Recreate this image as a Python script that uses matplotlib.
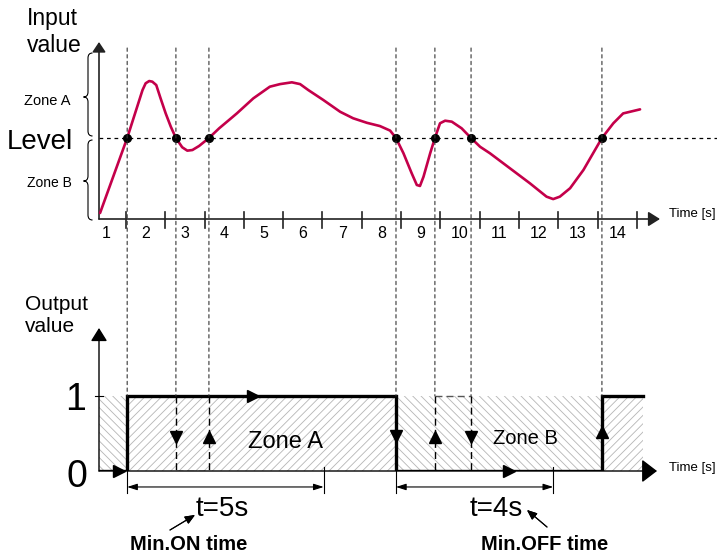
import numpy as np
import matplotlib
matplotlib.use("Agg")
import matplotlib.pyplot as plt
from matplotlib.patches import ConnectionPatch, PathPatch
from matplotlib.path import Path

plt.rcParams['font.family'] = ['Liberation Sans', 'DejaVu Sans']
plt.rcParams['hatch.linewidth'] = 0.6

W, H = 717, 555

# input signal: time [s] and value (level = 50)
curve_t = [0.34, 1.03, 1.42, 1.50, 1.59, 1.67, 1.77, 1.88, 2.01, 2.14, 2.27,
           2.43, 2.56, 2.69, 2.86, 3.11, 3.37, 3.62, 3.82, 4.24, 4.66, 4.92,
           5.22, 5.43, 5.64, 6.02, 6.45, 6.78, 7.13, 7.46, 7.72, 7.87, 8.06,
           8.27, 8.40, 8.48, 8.57, 8.74, 8.86, 8.99, 9.12, 9.29, 9.54, 9.78,
           10.01, 10.26, 10.77, 11.28, 11.70, 11.87, 12.04, 12.30, 12.64, 13.11,
           13.40, 13.65, 14.08]
curve_v = [3.7, 50, 79.6, 83.8, 85.2, 84.8, 82.7, 74.5, 65.2, 57.0, 50,
           44.3, 42.2, 42.6, 45.1, 50, 56.0, 61.1, 65.2, 74.5, 81.7, 83.3,
           84.4, 83.3, 79.6, 73.5, 66.2, 62.2, 59.4, 57.4, 54.6, 50, 40.6,
           28.2, 21.0, 20.4, 26.1, 40.6, 50, 59.1, 60.7, 60.1, 56.0, 50,
           44.6, 40.6, 31.3, 22.0, 13.8, 12.3, 13.8, 19.0, 30.3, 50,
           59.1, 65.2, 67.7]
level = 50
crossings = [1.03, 2.27, 3.11, 7.87, 8.86, 9.78, 13.11]
seconds = np.arange(1, 15)
tick_labels = [str(s) for s in seconds]

# output signal
out_t = [0.31, 1.03, 1.03, 7.87, 7.87, 13.11, 13.11, 14.15]
out_v = [0, 0, 1, 1, 0, 0, 1, 1]
ignored_on = [2.27, 3.11]
ignored_off = [8.86, 9.78]
zone_edges = [0.31, 1.03, 7.87, 13.11, 14.15]
min_on = 5
min_off = 4


def fx(px):
    return px / W


def fy(py):
    return 1 - py / H


def t_of(px):
    return (px - 126) / 39.3 + 1


fig = plt.figure(figsize=(W / 100, H / 100), dpi=100)
ax1 = fig.add_axes([fx(99), fy(219), (660 - 99) / W, (219 - 42) / H])
ax2 = fig.add_axes([fx(99), fy(471), (660 - 99) / W, (471 - 328) / H])
t_left, t_right = t_of(99), t_of(660)
for ax in (ax1, ax2):
    ax.set_xlim(t_left, t_right)
    ax.axis('off')
ax1.set_ylim(0, 109.3)
ax2.set_ylim(0, 1.907)

# --- oberes Diagramm ---
arr = dict(color='#222222', lw=1.2, shrinkA=0, shrinkB=0, mutation_scale=20)
ax1.annotate('', xy=(t_right, 0), xytext=(t_left, 0), annotation_clip=False,
             arrowprops=dict(arrowstyle='-|>,head_length=0.35,head_width=0.22', **arr))
ax1.annotate('', xy=(t_left, 109.3), xytext=(t_left, 0), annotation_clip=False,
             arrowprops=dict(arrowstyle='-|>,head_length=0.3,head_width=0.2', **arr))
for s, lab in zip(seconds, tick_labels):
    ax1.plot([s, s], [4.3, -5.6], color='#222222', lw=1.2, clip_on=False)
    ax1.text(s - 0.5, -9.2, lab, ha='center', va='center', fontsize=11.5)

ax1.plot([t_left, t_of(717)], [level, level], ls=(0, (3, 3)), lw=0.9,
         color='k', clip_on=False)
ax1.plot(curve_t, curve_v, color='#C4004A', lw=1.9, solid_joinstyle='round',
         solid_capstyle='round', clip_on=False, zorder=3)
ax1.plot(crossings, [level] * len(crossings), 'o', color='k', ms=5.5, zorder=5)

for c in crossings:
    con = ConnectionPatch(xyA=(c, 105.6), coordsA=ax1.transData,
                          xyB=(c, 1), coordsB=ax2.transData,
                          ls=(0, (3, 3)), lw=0.8, color='#333333')
    fig.add_artist(con)

# --- unteres Diagramm ---
ax2.annotate('', xy=(t_of(657), 0), xytext=(t_left, 0), annotation_clip=False,
             arrowprops=dict(arrowstyle='-|>,head_length=0.47,head_width=0.36',
                             color='k', lw=1, shrinkA=0, shrinkB=0, mutation_scale=20))
ax2.annotate('', xy=(t_left, 1.907), xytext=(t_left, 0), annotation_clip=False,
             arrowprops=dict(arrowstyle='-|>,head_length=0.4,head_width=0.25',
                             color='k', lw=1, shrinkA=0, shrinkB=0, mutation_scale=20))
ax2.plot([t_of(95), t_of(103)], [1, 1], color='k', lw=0.8, clip_on=False)

patterns = ['\\\\\\\\', '////']
for i in range(len(zone_edges) - 1):
    ax2.fill_between([zone_edges[i], zone_edges[i + 1]], 0, 1, facecolor='none',
                     edgecolor='#b5b5b5', hatch=patterns[i % 2], lw=0)

ax2.plot(out_t, out_v, color='k', lw=2.4, solid_joinstyle='miter', zorder=4)

for c in ignored_on + ignored_off:
    ax2.plot([c, c], [1, 0], ls=(0, (5, 3)), lw=1, color='k', zorder=3)
ax2.plot(ignored_on, [0, 0], ls=(0, (5, 3)), lw=1, color='k')
ax2.plot(ignored_off, [1, 1], ls=(0, (5, 3)), lw=1, color='#555555')

mk = dict(color='k', ms=9, zorder=5, clip_on=False)
ax2.plot(t_of(119), 0, marker='>', **mk)
ax2.plot(t_of(253), 1, marker='>', **mk)
ax2.plot(crossings[3], 0.47, marker='v', **mk)
ax2.plot(t_of(509), 0, marker='>', **mk)
ax2.plot(crossings[6], 0.52, marker='^', **mk)
ax2.plot(ignored_on[0], 0.45, marker='v', **mk)
ax2.plot(ignored_on[1], 0.45, marker='^', **mk)
ax2.plot(ignored_off[0], 0.45, marker='^', **mk)
ax2.plot(ignored_off[1], 0.45, marker='v', **mk)

# Bemaßung Min.ON / Min.OFF
dim_y = -0.213
for a, b in [(crossings[0], crossings[0] + min_on), (crossings[3], crossings[3] + min_off)]:
    ax2.annotate('', xy=(b, dim_y), xytext=(a, dim_y), annotation_clip=False,
                 arrowprops=dict(arrowstyle='<|-|>,head_length=0.5,head_width=0.16',
                                 color='k', lw=0.8, shrinkA=0, shrinkB=0, mutation_scale=12))
    for x in (a, b):
        ax2.plot([x, x], [0.05, -0.29], color='k', lw=0.8, clip_on=False)

fig.text(fx(222), fy(509), 't=5s', fontsize=20, ha='center', va='center')
fig.text(fx(496), fy(509), 't=4s', fontsize=20, ha='center', va='center')
fig.text(fx(189), fy(545), 'Min.ON time', fontsize=14.5, weight='bold', ha='center', va='center')
fig.text(fx(545), fy(545), 'Min.OFF time', fontsize=14.5, weight='bold', ha='center', va='center')
small = dict(arrowstyle='-|>,head_length=0.6,head_width=0.25', lw=0.8, color='k',
             mutation_scale=10, shrinkA=0, shrinkB=0)
fig.add_artist(plt.annotate('', xy=(fx(195), fy(515)), xytext=(fx(170), fy(530)),
                            xycoords='figure fraction', arrowprops=small))
fig.add_artist(plt.annotate('', xy=(fx(527), fy(510)), xytext=(fx(547), fy(527)),
                            xycoords='figure fraction', arrowprops=small))

fig.text(fx(286), fy(442), 'Zone A', fontsize=17, ha='center', va='center')
fig.text(fx(525), fy(439), 'Zone B', fontsize=14.5, ha='center', va='center')
fig.text(fx(692), fy(214), 'Time [s]', fontsize=9.5, ha='center', va='center')
fig.text(fx(692), fy(468), 'Time [s]', fontsize=9.5, ha='center', va='center')
fig.text(fx(76), fy(400), '1', fontsize=27, ha='center', va='center')
fig.text(fx(77), fy(477), '0', fontsize=27, ha='center', va='center')
fig.text(fx(25), fy(304), 'Output', fontsize=15, ha='left', va='center')
fig.text(fx(25), fy(327), 'value', fontsize=15, ha='left', va='center')
fig.text(fx(27), fy(19), 'Input', fontsize=16.5, ha='left', va='center')
fig.text(fx(27), fy(45), 'value', fontsize=16.5, ha='left', va='center')
fig.text(fx(40), fy(142), 'Level', fontsize=20, ha='center', va='center')
fig.text(fx(47), fy(101), 'Zone A', fontsize=10.5, ha='center', va='center')
fig.text(fx(49), fy(183), 'Zone B', fontsize=10, ha='center', va='center')


def brace(x, y0, ym, y1, w=4.5, d=5):
    pts = [(x + w, y0), (x, y0), (x, y0 + d), (x, ym - d), (x, ym), (x - w, ym),
           (x, ym), (x, ym + d), (x, y1 - d), (x, y1), (x + w, y1)]
    codes = [Path.MOVETO, Path.CURVE3, Path.CURVE3, Path.LINETO, Path.CURVE3,
             Path.CURVE3, Path.CURVE3, Path.CURVE3, Path.LINETO, Path.CURVE3, Path.CURVE3]
    verts = [(fx(px), fy(py)) for px, py in pts]
    fig.add_artist(PathPatch(Path(verts, codes), transform=fig.transFigure,
                             fill=False, lw=0.8, color='k'))


brace(88, 53, 97, 136)
brace(88, 140, 181, 220)

fig.savefig('out.png', dpi=100)
